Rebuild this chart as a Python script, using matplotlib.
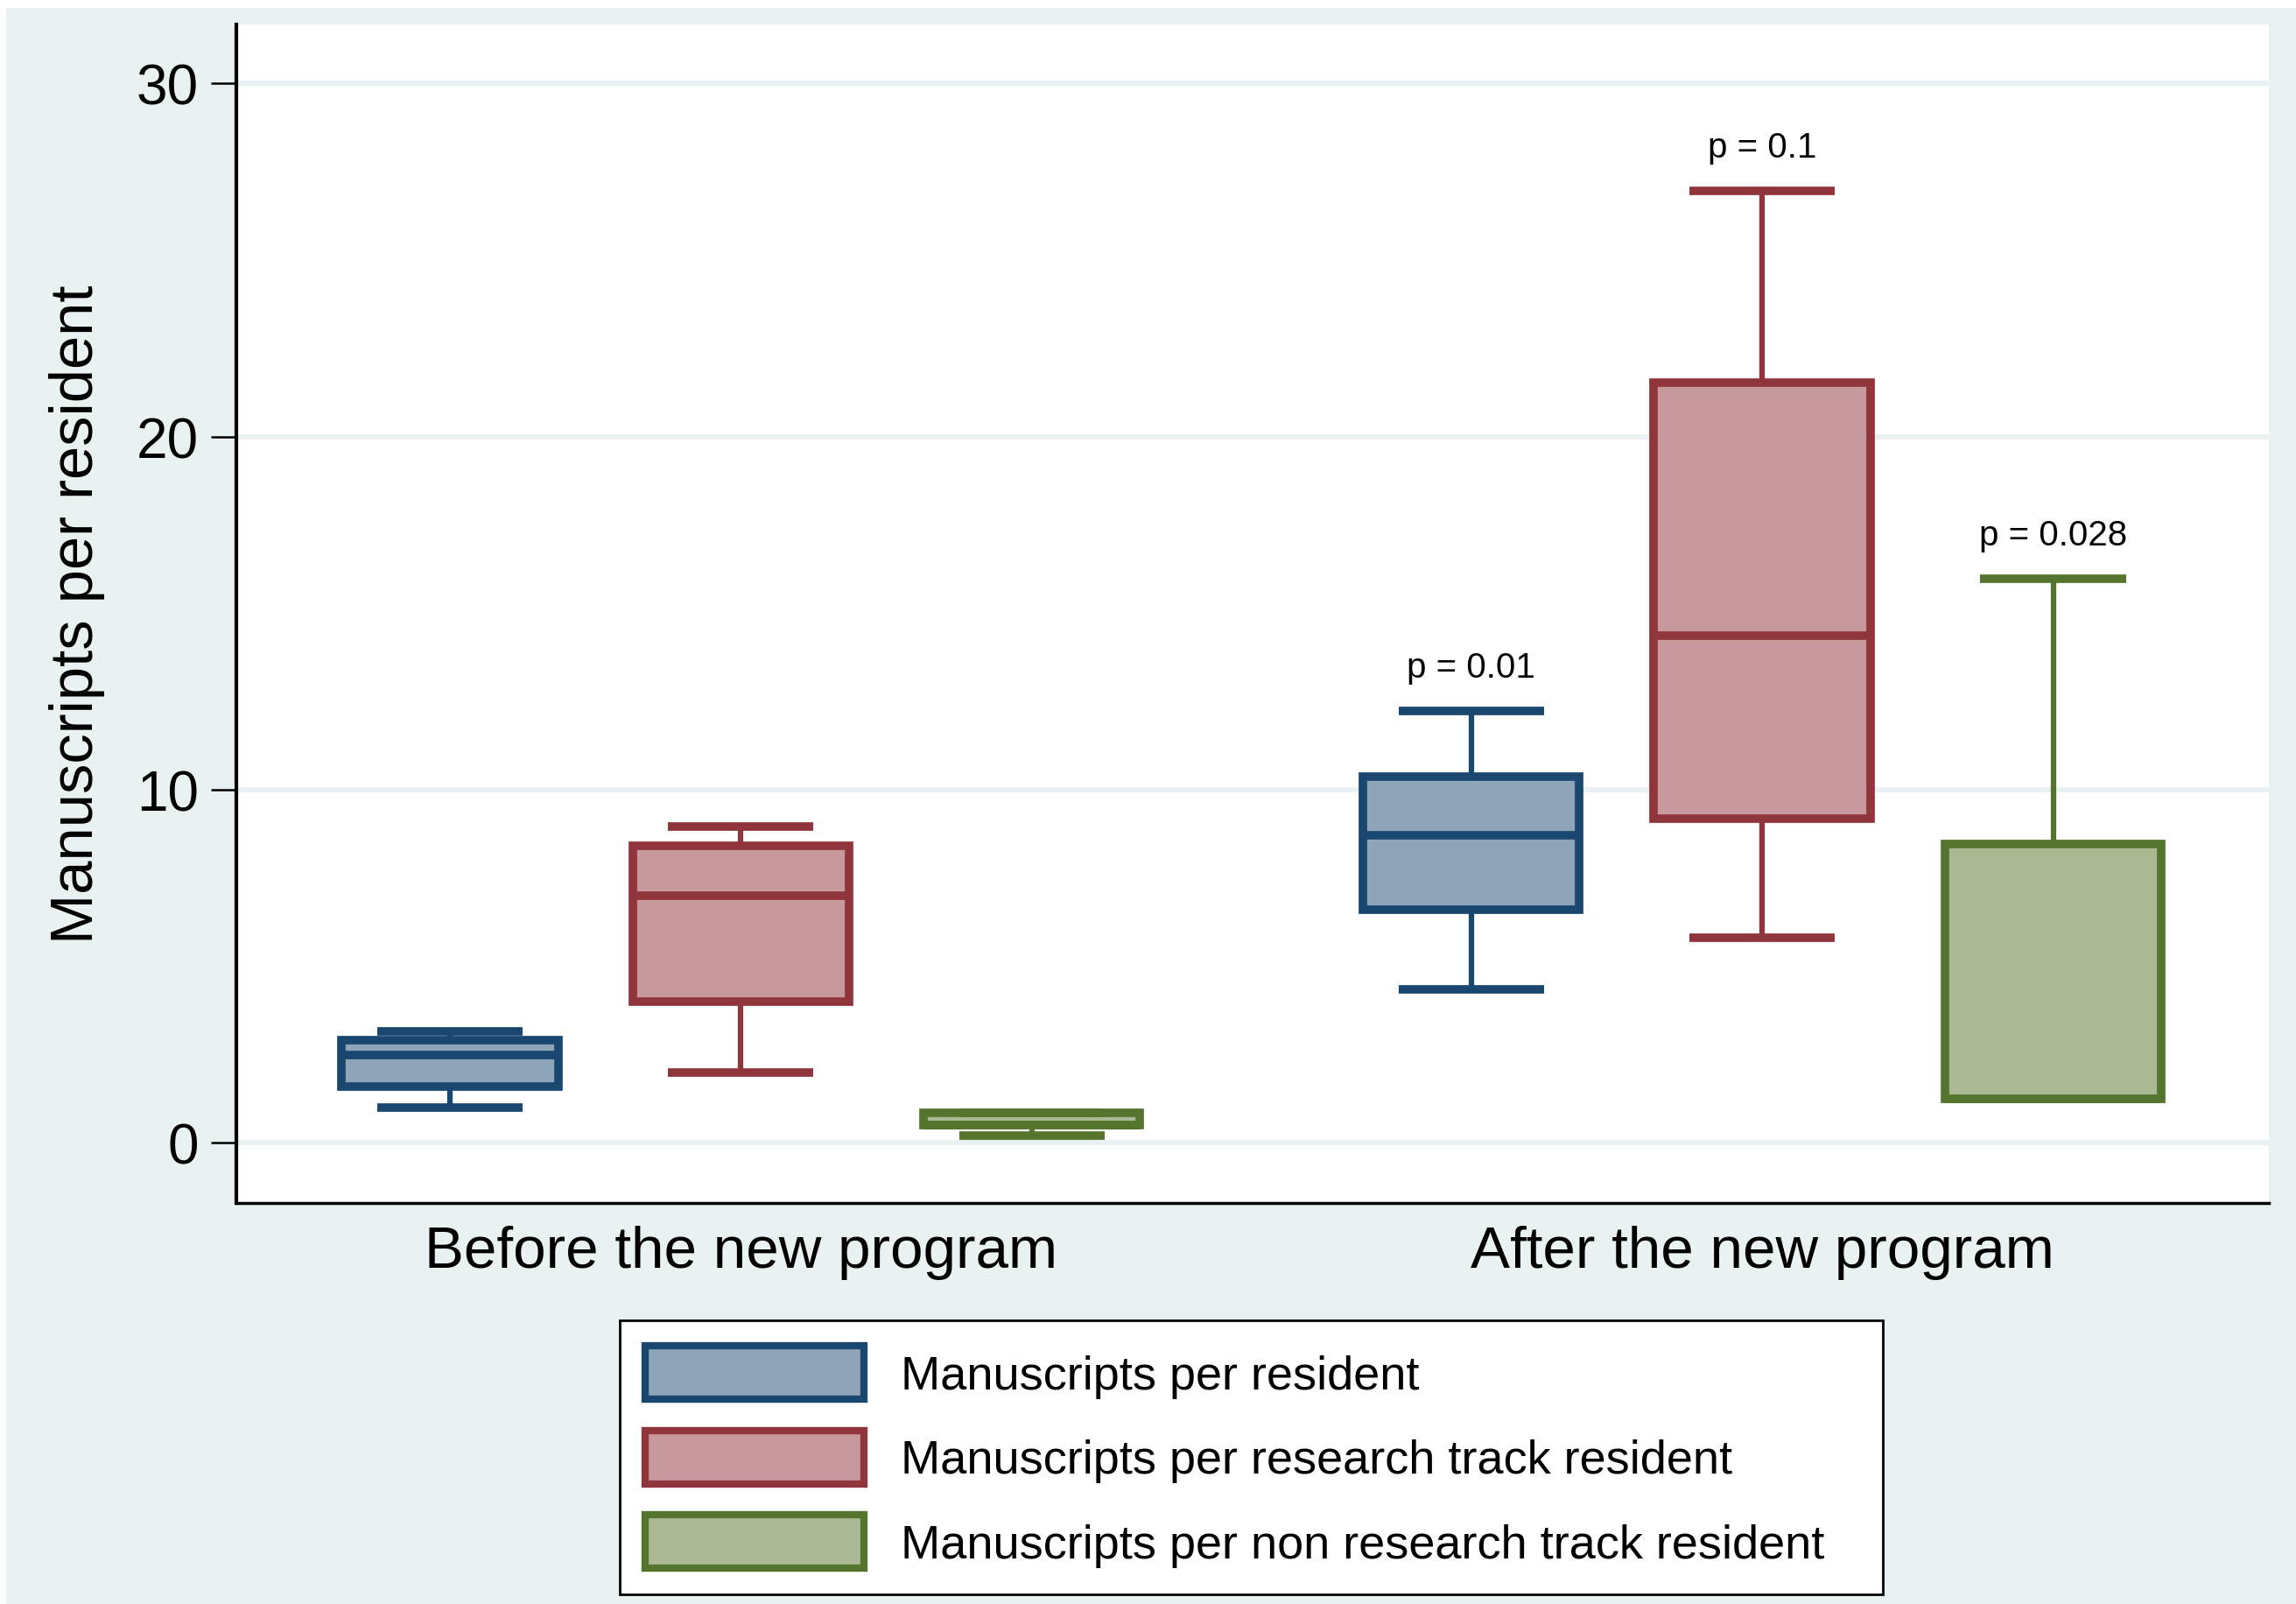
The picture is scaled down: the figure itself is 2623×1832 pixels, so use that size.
import matplotlib
matplotlib.use("Agg")
import matplotlib.pyplot as plt
from matplotlib.patches import Patch, Rectangle

plt.rcParams['font.family'] = ['Liberation Sans', 'DejaVu Sans']

# data
groups = ["Before the new program", "After the new program"]
series = ["Manuscripts per resident",
          "Manuscripts per research track resident",
          "Manuscripts per non research track resident"]

# order: blue/red/green before, then blue/red/green after
whis_lo = [1.0, 2.0, 0.2, 4.35, 5.8, 1.24]
q1_vals = [1.6, 4.0, 0.5, 6.6, 9.17, 1.24]
medians = [2.5, 7.0, 0.5, 8.7, 14.36, 1.24]
q3_vals = [2.92, 8.42, 0.85, 10.37, 21.54, 8.46]
whis_hi = [3.15, 8.96, 0.85, 12.24, 26.97, 15.98]

p_labels = ["p = 0.01", "p = 0.1", "p = 0.028"]

edge_cols = ["#1A476F", "#90353B", "#55752F"]
fill_cols = ["#8DA4B9", "#C8999C", "#AAB994"]

positions = [1, 2, 3, 4.51, 5.51, 6.51]
group_centers = [2, 5.51]

stats = []
for i in range(len(positions)):
    stats.append(dict(whislo=whis_lo[i], q1=q1_vals[i], med=medians[i],
                      q3=q3_vals[i], whishi=whis_hi[i], fliers=[]))

fig = plt.figure(figsize=(26.23, 18.33), dpi=100, facecolor="white")
fig.patches.append(Rectangle((7 / 2623, 0), 1, 1 - 10 / 1833, transform=fig.transFigure,
                             facecolor="#EAF1F3", edgecolor="none", zorder=-10))

ax = fig.add_axes([0.1029, 0.2499, 0.988 - 0.1029, 0.984 - 0.2499])
ax.set_facecolor("white")

for i, st in enumerate(stats):
    c = i % 3
    ax.bxp([st], positions=[positions[i]], widths=0.744, capwidths=0.5,
           patch_artist=True, showfliers=False,
           boxprops=dict(facecolor=fill_cols[c], edgecolor=edge_cols[c], linewidth=7),
           medianprops=dict(color=edge_cols[c], linewidth=7, solid_capstyle="butt"),
           whiskerprops=dict(color=edge_cols[c], linewidth=4.5),
           capprops=dict(color=edge_cols[c], linewidth=7, solid_capstyle="butt"),
           zorder=3)

# p-values above the after-program boxes
for j in range(3):
    k = 3 + j
    ax.text(positions[k], whis_hi[k] + 0.95, p_labels[j], ha="center", va="baseline",
            fontsize=29, color="black")

ax.set_xlim(0.266, 7.25)
ax.set_ylim(-1.7, 31.66)
ax.set_yticks([0, 10, 20, 30])
ax.yaxis.grid(True, color="#EAF1F3", linewidth=4.5)
ax.set_axisbelow(True)

ax.set_xticks(group_centers)
ax.set_xticklabels(groups, fontsize=48.5)
ax.tick_params(axis="x", length=0, pad=18)
ax.tick_params(axis="y", labelsize=46, length=21, width=1.8, pad=10)
ax.set_ylabel("Manuscripts per resident", fontsize=49.5, labelpad=26)

for s in ["top", "right"]:
    ax.spines[s].set_visible(False)
ax.spines["left"].set_linewidth(3)
ax.spines["bottom"].set_linewidth(2.5)

handles = [Patch(facecolor=fill_cols[c], edgecolor=edge_cols[c], linewidth=6) for c in range(3)]
leg_top = 1 - 902 / 1096
leg = fig.legend(handles, series, loc="upper left",
                 bbox_to_anchor=(423 / 1568, leg_top - 0.01, 863 / 1568, 0.01), mode="expand",
                 fontsize=39, frameon=True, fancybox=False, edgecolor="black", framealpha=1,
                 handlelength=4.6, handleheight=1.35, handletextpad=0.78,
                 labelspacing=0.66, borderpad=0.55, borderaxespad=0)
leg.get_frame().set_linewidth(2)
leg.get_frame().set_facecolor("white")

fig.savefig("out.png", dpi=100, facecolor=fig.get_facecolor())
